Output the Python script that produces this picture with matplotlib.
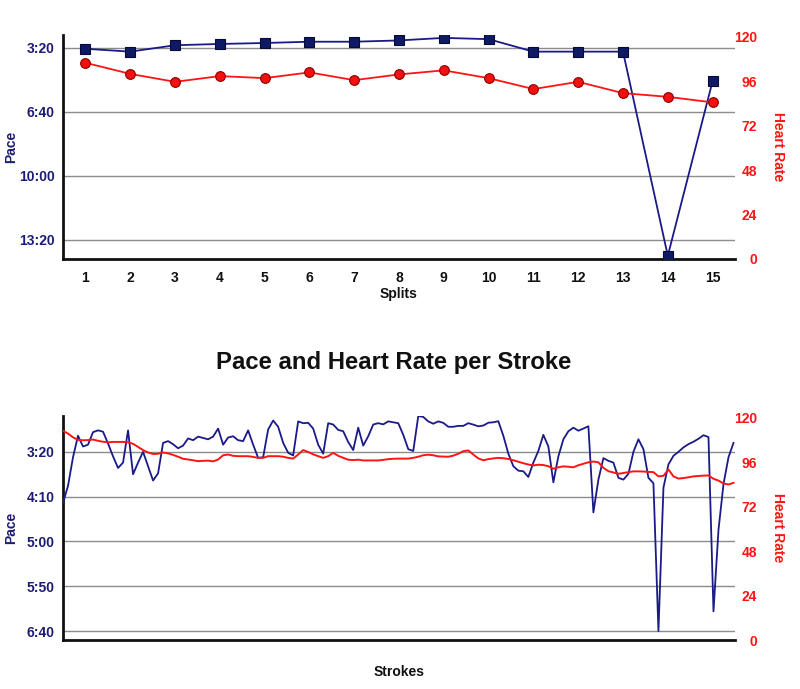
import matplotlib
matplotlib.use("Agg")
import matplotlib.pyplot as plt
from matplotlib.ticker import FuncFormatter

# ---------------- data ----------------
splits = list(range(1, 16))
split_pace_s = [203, 212, 192, 188, 185, 181, 181, 177, 169, 173, 212, 212, 212, 850, 304]
split_hr = [106, 100, 95.7, 98.8, 97.7, 100.8, 96.6, 99.7, 101.9, 97.7, 91.8, 95.7, 89.6, 87.6, 84.6]

stroke_pace_s = [
    257, 238, 206, 182, 194, 192, 178, 176, 177.5, 190.6,
    205, 218, 212, 176, 225, 212, 200, 216, 232, 224,
    190, 188, 191.5, 196, 193, 185, 187, 183, 184.5, 186,
    183, 174, 192, 184, 182.6, 187, 188, 176, 192, 206.7,
    206, 175, 165, 172, 190, 201, 204, 166, 168, 167.6,
    174, 192, 202, 168, 169.5, 175.5, 177, 189, 198, 173,
    193, 182.6, 169.5, 168, 169.3, 166, 167, 168, 181, 197,
    199, 160, 161, 166, 168.6, 166, 167.6, 172, 172, 171,
    171, 168, 169.6, 171.5, 170.6, 167.5, 167, 165.8, 182, 202,
    216, 221, 221.7, 228, 212, 199, 181, 194, 234, 205,
    186, 177, 173, 176.4, 174, 171.4, 267.6, 231, 207, 210,
    212, 229, 231, 224.5, 200, 186, 197, 229, 235, 400,
    240, 214, 204.4, 200, 195, 191.4, 188.7, 185.4, 181.4, 183.5,
    378, 287, 236, 206, 190,
]
stroke_hr = [
    113, 111.5, 109.5, 108.1, 107.9, 108, 108.3, 107.6, 107.1, 106.8,
    107, 107, 107, 106.8, 106, 104.3, 102.6, 101.3, 100.5, 100.6,
    101.3, 100.8, 100, 99, 97.9, 97.5, 97.1, 96.6, 96.8, 96.9,
    96.5, 97.5, 99.8, 100.2, 99.5, 99.3, 99.3, 99.3, 98.9, 98.4,
    98.4, 99.3, 99.3, 99.3, 99, 98.4, 98, 100.2, 102.6, 101.6,
    100.3, 99.3, 98.4, 99.3, 101.1, 99.5, 98.4, 97.4, 97.2, 97.4,
    97, 97, 97, 97, 97.3, 97.7, 97.9, 98, 98, 98,
    98.4, 99, 99.8, 100.1, 99.8, 99.2, 99.1, 99, 99.6, 100.6,
    102, 102.4, 100.2, 98.1, 97.1, 97.7, 98.1, 98.4, 98.2, 97.8,
    97.1, 96.3, 95.5, 94.8, 94.3, 94.7, 94.5, 93.9, 92.5, 93.3,
    93.8, 93.6, 93.3, 94.4, 95.2, 96, 96.4, 96, 93, 91.2,
    90.5, 89.8, 90.2, 90.7, 91.1, 91.1, 91, 90.8, 90.7, 88.4,
    88.7, 92.1, 88.4, 87.2, 87.5, 87.9, 88.4, 88.6, 88.8, 88.9,
    87.1, 86.1, 84.6, 84, 84.9,
]
strokes = list(range(len(stroke_pace_s)))

top_pace_ticks = [200, 400, 600, 800]
bottom_pace_ticks = [200, 250, 300, 350, 400]
hr_ticks = [0, 24, 48, 72, 96, 120]

# ---------------- style ----------------
plt.rcParams['font.family'] = ['Liberation Sans', 'DejaVu Sans']
NAVY = '#1c1c74'
LINE_NAVY = '#1a1a88'
RED = '#ff1414'
GRID = '#8c8c8c'


def fmt_pace(v, pos=None):
    v = int(round(v))
    return f"{v // 60}:{v % 60:02d}"


fig = plt.figure(figsize=(8.0, 6.89), dpi=100)


def style_axes(ax, ax2, pace_ticks, ylim):
    ax.set_ylim(*ylim)
    ax.set_yticks(pace_ticks)
    ax.yaxis.set_major_formatter(FuncFormatter(fmt_pace))
    ax.grid(axis='y', color=GRID, linewidth=1.0)
    ax.set_axisbelow(True)
    for s in ['top', 'right']:
        ax.spines[s].set_visible(False)
    for s in ['left', 'bottom']:
        ax.spines[s].set_linewidth(2.0)
        ax.spines[s].set_color('#111111')
    ax.tick_params(axis='y', length=0, pad=6, labelsize=10, labelcolor=NAVY)
    for t in ax.get_yticklabels():
        t.set_fontweight('bold')
    ax.set_ylabel('Pace', color=NAVY, fontsize=10, fontweight='bold',
                  va='center', ha='center')
    ax.yaxis.set_label_coords(-0.0766, 0.5)

    ax2.set_ylim(0, 121)
    ax2.set_yticks(hr_ticks)
    for s in ['top', 'right', 'left', 'bottom']:
        ax2.spines[s].set_visible(False)
    ax2.tick_params(axis='y', length=0, pad=16, labelsize=10, labelcolor=RED)
    for t in ax2.get_yticklabels():
        t.set_fontweight('bold')
        t.set_horizontalalignment('right')
    ax2.set_ylabel('Heart Rate', color=RED, fontsize=10, fontweight='bold',
                   rotation=270, va='center', ha='center')
    ax2.yaxis.set_label_coords(1.064, 0.5)


# ---------------- top chart: per split ----------------
ax = fig.add_axes([0.07875, 0.6241, 0.84, 0.3251])
ax2 = ax.twinx()
ax.plot(splits, split_pace_s, color=LINE_NAVY, linewidth=1.3, marker='s',
        markersize=7, markerfacecolor='#0e1a66', markeredgecolor='#050a30',
        markeredgewidth=0.8, zorder=3)
ax2.plot(splits, split_hr, color=RED, linewidth=1.3, marker='o',
         markersize=7, markerfacecolor='#f21010', markeredgecolor='#8a0000',
         markeredgewidth=0.8, zorder=3)
ax.set_xlim(0.5, 15.5)
ax.set_xticks(splits)
ax.tick_params(axis='x', length=0, pad=9, labelsize=10, labelcolor='#111111')
for t in ax.get_xticklabels():
    t.set_fontweight('bold')
style_axes(ax, ax2, top_pace_ticks, (860, 160))
ax.set_xlabel('Splits', fontsize=10, fontweight='bold', color='#111111', labelpad=1)

# ---------------- bottom chart: per stroke ----------------
fig.text(0.492, 0.4746, 'Pace and Heart Rate per Stroke', fontsize=17.2,
         fontweight='bold', ha='center', va='center', color='#111111')

bx = fig.add_axes([0.07875, 0.0711, 0.84, 0.3251])
bx2 = bx.twinx()
bx.plot(strokes, stroke_pace_s, color=LINE_NAVY, linewidth=1.3, zorder=3)
bx2.plot(strokes, stroke_hr, color=RED, linewidth=1.4, zorder=3)
bx.set_xlim(0, len(strokes) - 0.7)
bx.set_xticks([])
style_axes(bx, bx2, bottom_pace_ticks, (410, 160))
bx.set_xlabel('Strokes', fontsize=10, fontweight='bold', color='#111111', labelpad=18)

fig.savefig('out.png', dpi=100)
